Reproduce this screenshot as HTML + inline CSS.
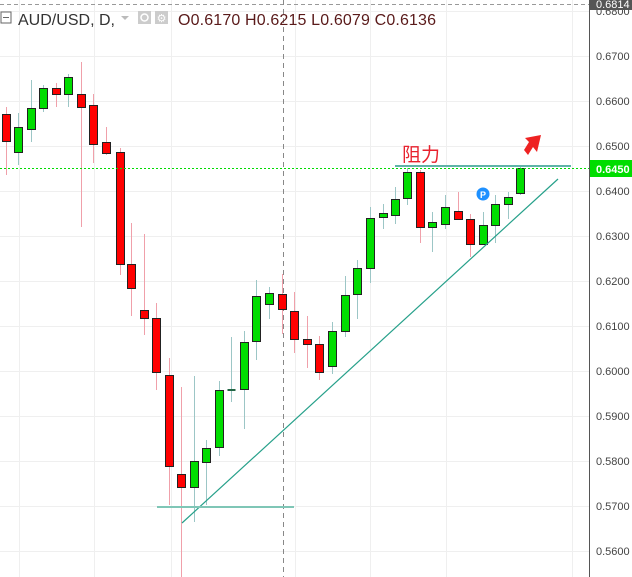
<!DOCTYPE html>
<html><head><meta charset="utf-8"><style>
html,body{margin:0;padding:0;background:#fff;}
svg{display:block;font-family:"Liberation Sans","Noto Sans CJK SC",sans-serif;}
</style></head><body>
<svg width="632" height="577" viewBox="0 0 632 577" xmlns="http://www.w3.org/2000/svg">
<rect width="632" height="577" fill="#fff"/>
<g stroke="#efefef" stroke-width="1">
<line x1="19.5" y1="0" x2="19.5" y2="577"/><line x1="94.5" y1="0" x2="94.5" y2="577"/>
<line x1="171.5" y1="0" x2="171.5" y2="577"/><line x1="295.5" y1="0" x2="295.5" y2="577"/>
<line x1="370.5" y1="0" x2="370.5" y2="577"/><line x1="446.5" y1="0" x2="446.5" y2="577"/>
<line x1="572.5" y1="0" x2="572.5" y2="577"/>
<line x1="0" y1="11.5" x2="589" y2="11.5"/><line x1="0" y1="56.5" x2="589" y2="56.5"/>
<line x1="0" y1="101.5" x2="589" y2="101.5"/><line x1="0" y1="146.5" x2="589" y2="146.5"/>
<line x1="0" y1="191.5" x2="589" y2="191.5"/><line x1="0" y1="236.5" x2="589" y2="236.5"/>
<line x1="0" y1="281.5" x2="589" y2="281.5"/><line x1="0" y1="326.5" x2="589" y2="326.5"/>
<line x1="0" y1="371.5" x2="589" y2="371.5"/><line x1="0" y1="416.5" x2="589" y2="416.5"/>
<line x1="0" y1="461.5" x2="589" y2="461.5"/><line x1="0" y1="506.5" x2="589" y2="506.5"/>
<line x1="0" y1="551.5" x2="589" y2="551.5"/>
</g>
<line x1="0" y1="4.5" x2="589" y2="4.5" stroke="#999" stroke-dasharray="4,3"/>
<line x1="283.5" y1="0" x2="283.5" y2="577" stroke="#888" stroke-dasharray="5,4"/>
<g stroke-width="1">
<line x1="6.5" y1="107" x2="6.5" y2="175" stroke="#f0a0aa"/><rect x="2.5" y="114.5" width="8" height="27" fill="#f00" stroke="#222"/>
<line x1="18.5" y1="113" x2="18.5" y2="165" stroke="#9cc6c6"/><rect x="14.5" y="127.5" width="8" height="25" fill="#0d0" stroke="#222"/>
<line x1="31.5" y1="80" x2="31.5" y2="142" stroke="#9cc6c6"/><rect x="27.5" y="108.5" width="8" height="21" fill="#0d0" stroke="#222"/>
<line x1="43.5" y1="85" x2="43.5" y2="112" stroke="#9cc6c6"/><rect x="39.5" y="88.5" width="8" height="20" fill="#0d0" stroke="#222"/>
<line x1="56.5" y1="83" x2="56.5" y2="107" stroke="#f0a0aa"/><rect x="52.5" y="88.5" width="8" height="6" fill="#f00" stroke="#222"/>
<line x1="68.5" y1="74" x2="68.5" y2="107" stroke="#9cc6c6"/><rect x="64.5" y="77.5" width="8" height="17" fill="#0d0" stroke="#222"/>
<line x1="81.5" y1="62" x2="81.5" y2="227" stroke="#f0a0aa"/><rect x="77.5" y="94.5" width="8" height="13" fill="#f00" stroke="#222"/>
<line x1="93.5" y1="94" x2="93.5" y2="163" stroke="#f0a0aa"/><rect x="89.5" y="105.5" width="8" height="39" fill="#f00" stroke="#222"/>
<line x1="106.5" y1="127" x2="106.5" y2="155" stroke="#f0a0aa"/><rect x="102.5" y="142.5" width="8" height="11" fill="#f00" stroke="#222"/>
<line x1="120.5" y1="148" x2="120.5" y2="275" stroke="#f0a0aa"/><rect x="116.5" y="152.5" width="8" height="112" fill="#f00" stroke="#222"/>
<line x1="131.5" y1="223" x2="131.5" y2="316" stroke="#f0a0aa"/><rect x="127.5" y="264.5" width="8" height="24" fill="#f00" stroke="#222"/>
<line x1="144.5" y1="234" x2="144.5" y2="335" stroke="#f0a0aa"/><rect x="140.5" y="310.5" width="8" height="8" fill="#f00" stroke="#222"/>
<line x1="156.5" y1="303" x2="156.5" y2="390" stroke="#f0a0aa"/><rect x="152.5" y="318.5" width="8" height="54" fill="#f00" stroke="#222"/>
<line x1="169.5" y1="358" x2="169.5" y2="505" stroke="#f0a0aa"/><rect x="165.5" y="375.5" width="8" height="91" fill="#f00" stroke="#222"/>
<line x1="181.5" y1="387" x2="181.5" y2="577" stroke="#f0a0aa"/><rect x="177.5" y="474.5" width="8" height="13" fill="#f00" stroke="#222"/>
<line x1="194.5" y1="376" x2="194.5" y2="522" stroke="#9cc6c6"/><rect x="190.5" y="461.5" width="8" height="26" fill="#0d0" stroke="#222"/>
<line x1="206.5" y1="440" x2="206.5" y2="505" stroke="#9cc6c6"/><rect x="202.5" y="448.5" width="8" height="14" fill="#0d0" stroke="#222"/>
<line x1="219.5" y1="381" x2="219.5" y2="456" stroke="#9cc6c6"/><rect x="215.5" y="390.5" width="8" height="57" fill="#0d0" stroke="#222"/>
<line x1="231.5" y1="337" x2="231.5" y2="402" stroke="#9cc6c6"/><rect x="227.5" y="389" width="8" height="2" fill="#264" stroke="none"/>
<line x1="244.5" y1="331" x2="244.5" y2="429" stroke="#9cc6c6"/><rect x="240.5" y="342.5" width="8" height="47" fill="#0d0" stroke="#222"/>
<line x1="256.5" y1="280" x2="256.5" y2="360" stroke="#9cc6c6"/><rect x="252.5" y="296.5" width="8" height="45" fill="#0d0" stroke="#222"/>
<line x1="269.5" y1="287" x2="269.5" y2="319" stroke="#9cc6c6"/><rect x="265.5" y="293.5" width="8" height="11" fill="#0d0" stroke="#222"/>
<line x1="282.5" y1="274" x2="282.5" y2="334" stroke="#f0a0aa"/><rect x="278.5" y="294.5" width="8" height="15" fill="#f00" stroke="#222"/>
<line x1="294.5" y1="292" x2="294.5" y2="353" stroke="#f0a0aa"/><rect x="290.5" y="311.5" width="8" height="28" fill="#f00" stroke="#222"/>
<line x1="307.5" y1="316" x2="307.5" y2="368" stroke="#f0a0aa"/><rect x="303.5" y="339.5" width="8" height="5" fill="#f00" stroke="#222"/>
<line x1="319.5" y1="336" x2="319.5" y2="380" stroke="#f0a0aa"/><rect x="315.5" y="344.5" width="8" height="28" fill="#f00" stroke="#222"/>
<line x1="332.5" y1="322" x2="332.5" y2="374" stroke="#9cc6c6"/><rect x="328.5" y="331.5" width="8" height="35" fill="#0d0" stroke="#222"/>
<line x1="345.5" y1="276" x2="345.5" y2="337" stroke="#9cc6c6"/><rect x="341.5" y="295.5" width="8" height="36" fill="#0d0" stroke="#222"/>
<line x1="357.5" y1="260" x2="357.5" y2="319" stroke="#9cc6c6"/><rect x="353.5" y="268.5" width="8" height="26" fill="#0d0" stroke="#222"/>
<line x1="370.5" y1="207" x2="370.5" y2="283" stroke="#9cc6c6"/><rect x="366.5" y="218.5" width="8" height="50" fill="#0d0" stroke="#222"/>
<line x1="383.5" y1="204" x2="383.5" y2="229" stroke="#9cc6c6"/><rect x="379.5" y="213.5" width="8" height="4" fill="#0d0" stroke="#222"/>
<line x1="395.5" y1="187" x2="395.5" y2="224" stroke="#9cc6c6"/><rect x="391.5" y="199.5" width="8" height="16" fill="#0d0" stroke="#222"/>
<line x1="407.5" y1="168" x2="407.5" y2="205" stroke="#9cc6c6"/><rect x="403.5" y="172.5" width="8" height="26" fill="#0d0" stroke="#222"/>
<line x1="420.5" y1="170" x2="420.5" y2="243" stroke="#f0a0aa"/><rect x="416.5" y="172.5" width="8" height="55" fill="#f00" stroke="#222"/>
<line x1="432.5" y1="212" x2="432.5" y2="252" stroke="#9cc6c6"/><rect x="428.5" y="222.5" width="8" height="5" fill="#0d0" stroke="#222"/>
<line x1="445.5" y1="195" x2="445.5" y2="229" stroke="#9cc6c6"/><rect x="441.5" y="207.5" width="8" height="17" fill="#0d0" stroke="#222"/>
<line x1="458.5" y1="192" x2="458.5" y2="219" stroke="#f0a0aa"/><rect x="454.5" y="211.5" width="8" height="8" fill="#f00" stroke="#222"/>
<line x1="470.5" y1="214" x2="470.5" y2="257" stroke="#f0a0aa"/><rect x="466.5" y="219.5" width="8" height="25" fill="#f00" stroke="#222"/>
<line x1="483.5" y1="212" x2="483.5" y2="245" stroke="#9cc6c6"/><rect x="479.5" y="225.5" width="8" height="19" fill="#0d0" stroke="#222"/>
<line x1="495.5" y1="195" x2="495.5" y2="243" stroke="#9cc6c6"/><rect x="491.5" y="204.5" width="8" height="21" fill="#0d0" stroke="#222"/>
<line x1="508.5" y1="192" x2="508.5" y2="219" stroke="#9cc6c6"/><rect x="504.5" y="197.5" width="8" height="7" fill="#0d0" stroke="#222"/>
<line x1="520.5" y1="165" x2="520.5" y2="195" stroke="#9cc6c6"/><rect x="516.5" y="168.5" width="8" height="25" fill="#0d0" stroke="#222"/>
</g>
<line x1="0" y1="168.5" x2="589" y2="168.5" stroke="#00dd00" stroke-width="1" stroke-dasharray="2,2"/>
<line x1="395" y1="166" x2="571" y2="166" stroke="#5fb3a8" stroke-width="2"/>
<line x1="182" y1="523" x2="558" y2="179" stroke="#26a08a" stroke-width="1.2"/>
<line x1="157" y1="507" x2="294" y2="507" stroke="#7fc6b6" stroke-width="2"/>
<text x="402" y="161" font-size="19" fill="#e8222e">阻力</text>
<polygon points="541,135 537,152 533,147 528,155 524,150 529,142 525,138" fill="#ee2222"/>
<circle cx="483" cy="194" r="6.5" fill="#1e90ff"/>
<text x="483" y="198" font-size="9" font-weight="bold" fill="#fff" text-anchor="middle">P</text>
<line x1="589.5" y1="0" x2="589.5" y2="577" stroke="#555"/>
<g font-size="11" fill="#444">
<text x="596" y="60">0.6700</text><text x="596" y="105">0.6600</text><text x="596" y="150">0.6500</text>
<text x="596" y="195">0.6400</text><text x="596" y="240">0.6300</text><text x="596" y="285">0.6200</text>
<text x="596" y="330">0.6100</text><text x="596" y="375">0.6000</text><text x="596" y="420">0.5900</text>
<text x="596" y="465">0.5800</text><text x="596" y="510">0.5700</text><text x="596" y="555">0.5600</text>
<text x="596" y="15">0.6800</text>
</g>
<rect x="590" y="0" width="42" height="10" fill="#555"/>
<text x="596" y="8" font-size="11" fill="#fff">0.6814</text>
<rect x="590" y="160" width="42" height="17" fill="#00dd00"/>
<text x="596" y="173" font-size="11" fill="#fff" font-weight="bold">0.6450</text>
<rect x="1" y="12" width="10" height="11" fill="none" stroke="#666"/>
<line x1="3" y1="17.5" x2="9" y2="17.5" stroke="#666"/>
<text x="18" y="25" font-size="16" fill="#333" textLength="97" lengthAdjust="spacing">AUD/USD, D,</text>
<polygon points="121,16 129,16 125,20" fill="#bbb"/>
<rect x="138" y="11" width="13" height="13" fill="#ccc"/><circle cx="144.5" cy="17.5" r="3.5" fill="none" stroke="#fff" stroke-width="1.5"/>
<rect x="155" y="11" width="13" height="13" fill="#ccc"/><text x="161.5" y="22" font-size="11" fill="#fff" text-anchor="middle">⚙</text>
<text x="178" y="25" font-size="16" fill="#5a1a1a" textLength="258" lengthAdjust="spacing">O0.6170  H0.6215  L0.6079  C0.6136</text>
</svg>
</body></html>
